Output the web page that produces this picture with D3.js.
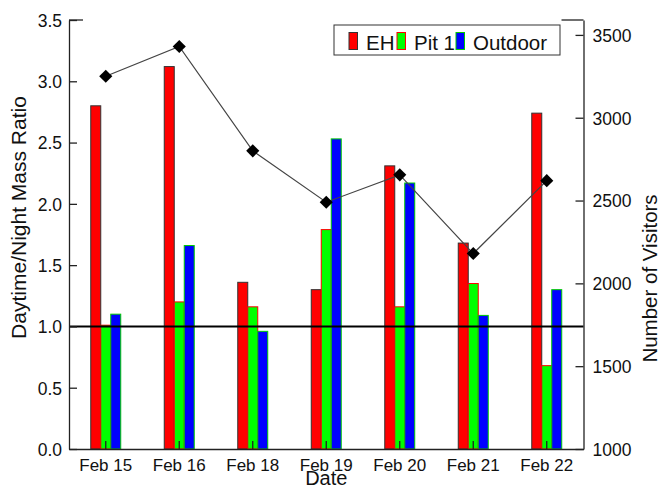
<!DOCTYPE html>
<html>
<head>
<meta charset="utf-8">
<script src="https://cdn.jsdelivr.net/npm/d3@7"></script>
<style>
  body { margin: 0; background: #fff; }
  svg { display: block; }
  text { font-family: "Liberation Sans", Arial, Helvetica, sans-serif; fill: #111; }
</style>
</head>
<body>
<svg id="chart" width="665" height="489"></svg>
<script>
// Sampling dates and measured values
const dates = ["Feb 15", "Feb 16", "Feb 18", "Feb 19", "Feb 20", "Feb 21", "Feb 22"];
const seriesNames = ["EH", "Pit 1", "Outdoor"];
const ehRatio = [2.80, 3.12, 1.36, 1.30, 2.31, 1.68, 2.74];
const pit1Ratio = [1.01, 1.20, 1.16, 1.79, 1.16, 1.35, 0.68];
const outdoorRatio = [1.10, 1.66, 0.96, 2.53, 2.17, 1.09, 1.30];
const visitors = [3250, 3430, 2800, 2490, 2655, 2180, 2620];
const ratioTicks = [0, 0.5, 1.0, 1.5, 2.0, 2.5, 3.0, 3.5];
const visitorTicks = [1000, 1500, 2000, 2500, 3000, 3500];
const referenceRatio = 1.0;

const seriesValues = [ehRatio, pit1Ratio, outdoorRatio];
const fills = ["#ff0000", "#00ff00", "#0000ff"];
const strokes = ["#333333", "#ff0000", "#00cc00"];

const svg = d3.select("#chart");
const plot = { left: 69, right: 583.5, top: 20, bottom: 449 };

const x = d3.scaleBand().domain(dates).range([plot.left, plot.right]).paddingInner(0).paddingOuter(0);
const barW = x.bandwidth() * 0.136;
const xs = d3.scaleBand().domain(seriesNames).range([-1.5 * barW, 1.5 * barW]);
const yL = d3.scaleLinear().domain([0, 3.5]).range([plot.bottom, plot.top]);
const yR = d3.scaleLinear().domain([1000, 3590]).range([plot.bottom, plot.top]);

// Bars: one group per date, three series inside
const rows = dates.map((d, i) => ({ date: d, vals: seriesValues.map(s => s[i]) }));
const groups = svg.append("g").selectAll("g").data(rows).join("g")
  .attr("transform", d => `translate(${x(d.date) + x.bandwidth() / 2},0)`);
groups.selectAll("rect")
  .data(d => d.vals.map((v, k) => ({ v, k })))
  .join("rect")
  .attr("x", d => xs(seriesNames[d.k]))
  .attr("width", xs.bandwidth())
  .attr("y", d => yL(d.v))
  .attr("height", d => yL(0) - yL(d.v))
  .attr("fill", d => fills[d.k])
  .attr("stroke", d => strokes[d.k])
  .attr("stroke-width", 1);

// Reference line at ratio 1
svg.append("line")
  .attr("x1", plot.left).attr("x2", plot.right)
  .attr("y1", yL(referenceRatio)).attr("y2", yL(referenceRatio))
  .attr("stroke", "#000").attr("stroke-width", 2);

// Axes
const axisColor = "#222";
const leftAxis = d3.axisLeft(yL).tickValues(ratioTicks).tickFormat(d3.format(".1f")).tickSizeInner(-8).tickSizeOuter(0).tickPadding(7);
const gL = svg.append("g").attr("transform", `translate(${plot.left},0)`).call(leftAxis);
const rightAxis = d3.axisRight(yR).tickValues(visitorTicks).tickFormat(d3.format("d")).tickSizeInner(-8).tickSizeOuter(0).tickPadding(9);
const gR = svg.append("g").attr("transform", `translate(${plot.right},0)`).call(rightAxis);
const bottomAxis = d3.axisBottom(x).tickSizeInner(-8).tickSizeOuter(0).tickPadding(10);
const gB = svg.append("g").attr("transform", `translate(0,${plot.bottom})`).call(bottomAxis);

[gL, gR, gB].forEach(g => {
  g.selectAll("path.domain").attr("stroke", axisColor).attr("stroke-width", 1.3);
  g.selectAll(".tick line").attr("stroke", axisColor).attr("stroke-width", 1.3);
  g.selectAll(".tick text").attr("font-size", 17.5).attr("fill", "#111")
    .style("font-family", "'Liberation Sans', Arial, sans-serif");
});
gB.selectAll(".tick text").attr("font-size", 17);
gL.selectAll(".tick text").attr("dy", "0.36em");
gR.selectAll(".tick text").attr("dy", "0.36em");
gB.selectAll(".tick text").attr("dy", "0.71em");

// Short top caps at each axis end
svg.append("line").attr("x1", plot.left).attr("x2", plot.left + 14)
  .attr("y1", plot.top).attr("y2", plot.top).attr("stroke", axisColor).attr("stroke-width", 1.3);
svg.append("line").attr("x1", plot.right - 22).attr("x2", plot.right)
  .attr("y1", plot.top).attr("y2", plot.top).attr("stroke", axisColor).attr("stroke-width", 1.3);

// Visitors line with diamond markers
const line = d3.line().x((d, i) => x(dates[i]) + x.bandwidth() / 2).y(d => yR(d));
svg.append("path").datum(visitors).attr("d", line)
  .attr("fill", "none").attr("stroke", "#444").attr("stroke-width", 1.2);
svg.append("g").selectAll("path").data(visitors).join("path")
  .attr("d", d3.symbol(d3.symbolSquare, 86))
  .attr("transform", (d, i) => `translate(${x(dates[i]) + x.bandwidth() / 2},${yR(d)}) rotate(45)`)
  .attr("fill", "#000");

// Axis titles
svg.append("text").attr("x", (plot.left + plot.right) / 2).attr("y", 485)
  .attr("text-anchor", "middle").attr("font-size", 20).text("Date");
svg.append("text").attr("transform", `translate(26,${(85 + 350) / 2}) rotate(-90)`)
  .attr("text-anchor", "middle").attr("font-size", 21).text("Daytime/Night Mass Ratio");
svg.append("text").attr("transform", `translate(657,${(197 + 360) / 2}) rotate(-90)`)
  .attr("text-anchor", "middle").attr("font-size", 20.5).text("Number of Visitors");

// Legend
const legend = svg.append("g");
legend.append("rect").attr("x", 334).attr("y", 25).attr("width", 226).attr("height", 30)
  .attr("fill", "#fff").attr("stroke", "#333").attr("stroke-width", 1);
const legendX = [349, 397, 456];
seriesNames.forEach((name, k) => {
  legend.append("rect").attr("x", legendX[k]).attr("y", 32.5).attr("width", 8.5).attr("height", 17)
    .attr("fill", fills[k]).attr("stroke", strokes[k]).attr("stroke-width", 1);
  legend.append("text").attr("x", legendX[k] + 17).attr("y", 49.5)
    .attr("font-size", 20.5).text(name);
});
</script>
</body>
</html>
